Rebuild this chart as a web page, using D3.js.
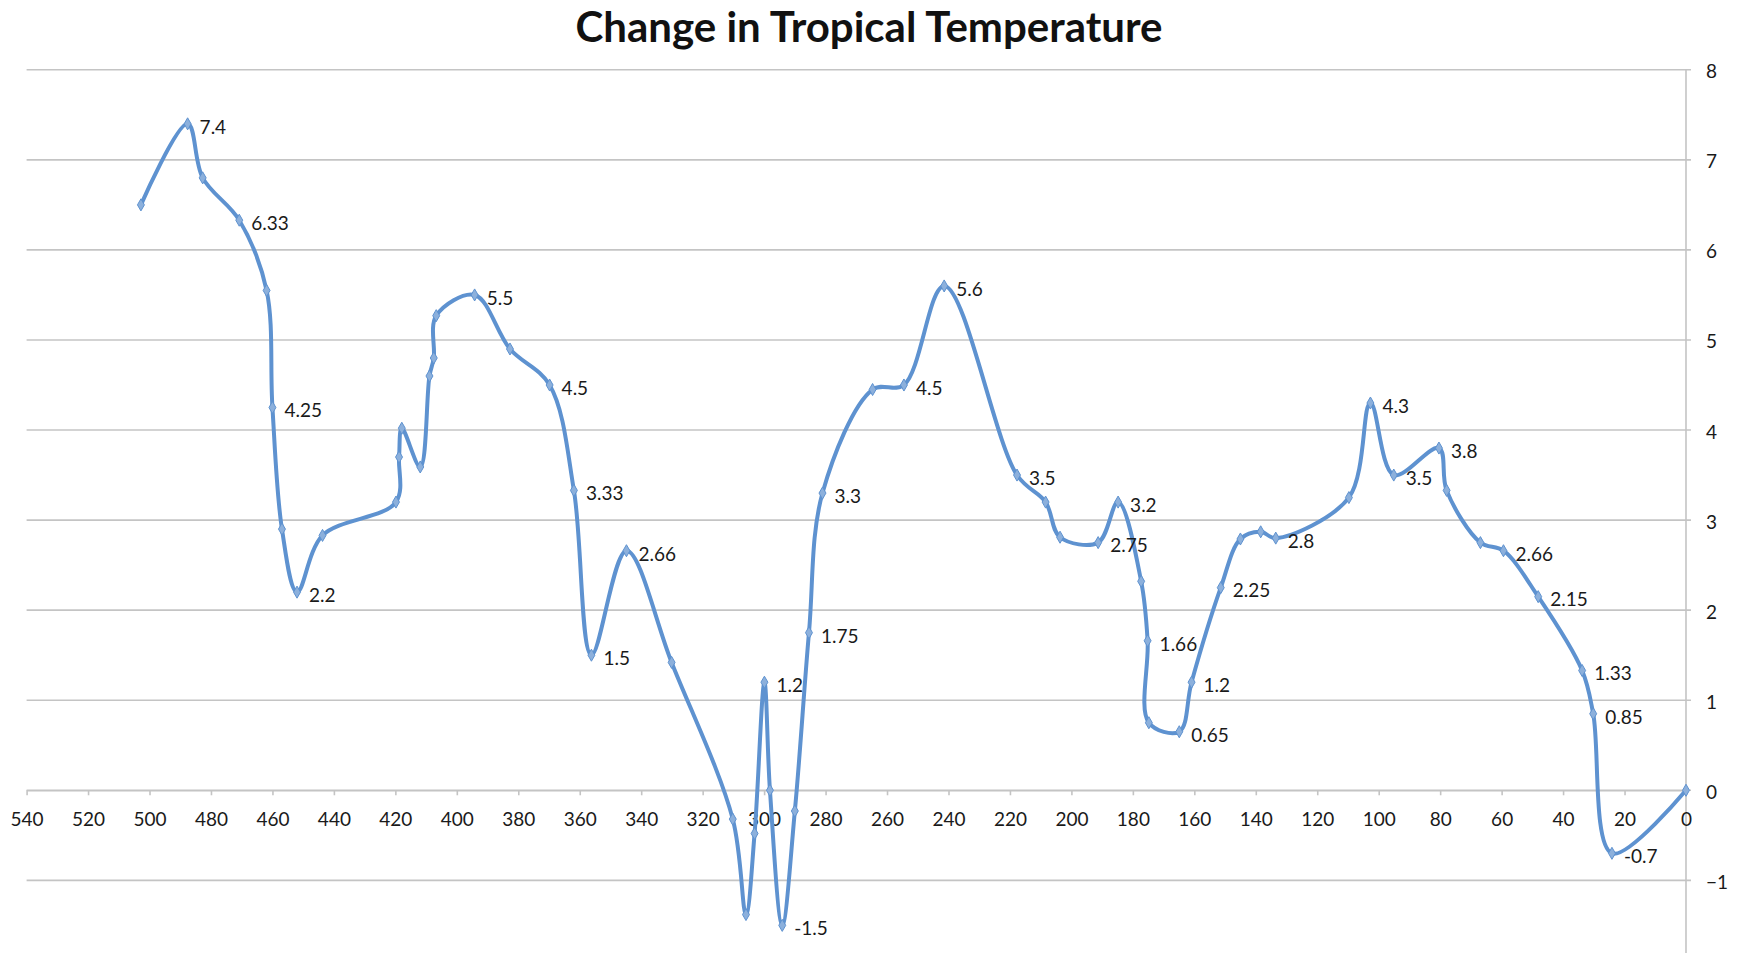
<!DOCTYPE html>
<html>
<head>
<meta charset="utf-8">
<script src="https://cdn.jsdelivr.net/npm/d3@7"></script>
<style>
  html, body { margin: 0; padding: 0; background: #fff; }
  svg { display: block; }
</style>
</head>
<body>
<svg id="chart"></svg>
<script>
// millions of years ago
const ages = [502.8, 487.6, 482.7, 470.8, 461.9, 460.0, 456.9, 452.0, 443.7, 419.8,
  418.8, 417.9, 411.9, 408.9, 407.5, 406.7, 394.2, 382.7, 369.8, 361.9,
  356.2, 344.8, 330.1, 310.2, 305.9, 303.1, 299.9, 298.1, 294.1, 290.0,
  285.4, 281.0, 264.7, 254.5, 241.4, 217.7, 208.4, 203.7, 191.3, 184.8,
  177.3, 175.2, 174.8, 164.9, 160.9, 151.4, 145.0, 138.4, 133.5, 109.7,
  102.7, 95.1, 80.4, 77.9, 66.9, 59.4, 48.1, 33.8, 30.2, 24.1, 0];

const temps = [6.5, 7.4, 6.8, 6.33, 5.55, 4.25, 2.9, 2.2, 2.83, 3.2,
  3.7, 4.02, 3.59, 4.6, 4.8, 5.27, 5.5, 4.9, 4.5, 3.33,
  1.5, 2.66, 1.42, -0.32, -1.38, -0.48, 1.2, 0, -1.5, -0.23,
  1.75, 3.3, 4.45, 4.5, 5.6, 3.5, 3.2, 2.81, 2.75, 3.2,
  2.32, 1.66, 0.75, 0.65, 1.2, 2.25, 2.79, 2.87, 2.8, 3.25,
  4.3, 3.5, 3.8, 3.33, 2.75, 2.66, 2.15, 1.33, 0.85, -0.7, 0];

const labels = ['', '7.4', '', '6.33', '', '4.25', '', '2.2', '', '',
  '', '', '', '', '', '', '5.5', '', '4.5', '3.33',
  '1.5', '2.66', '', '', '', '', '1.2', '', '-1.5', '',
  '1.75', '3.3', '', '4.5', '5.6', '3.5', '', '', '2.75', '3.2',
  '', '1.66', '', '0.65', '1.2', '2.25', '', '', '2.8', '',
  '4.3', '3.5', '3.8', '', '', '2.66', '2.15', '1.33', '0.85', '-0.7', ''];

const xTicks = d3.range(540, -1, -20);
const yTicks = d3.range(-1, 9, 1);

const width = 1738, height = 953;
const font = 'Lato, "Open Sans", sans-serif';
const lineColor = '#5e92d0';
const gridColor = '#c4c4c4';
const textColor = '#1a1a1a';

const svg = d3.select('#chart')
  .attr('width', width)
  .attr('height', height)
  .attr('viewBox', `0 0 ${width} ${height}`);

const x = d3.scaleLinear().domain([540, 0]).range([26.6, 1686]);
const y = d3.scaleLinear().domain([-2, 8]).range([970.4, 69.8]);

const points = ages.map((a, i) => ({ age: a, temp: temps[i], label: labels[i] }));

// horizontal gridlines
svg.append('g')
  .selectAll('line')
  .data(yTicks)
  .join('line')
  .attr('x1', x(540))
  .attr('x2', x(0) + 5)
  .attr('y1', d => y(d))
  .attr('y2', d => y(d))
  .attr('stroke', gridColor)
  .attr('stroke-width', 1.6);

// right value axis
const yAxis = d3.axisRight(y)
  .tickValues(yTicks)
  .tickFormat(d3.format('d'))
  .tickSize(0)
  .tickPadding(20);

const yAxisG = svg.append('g')
  .attr('transform', `translate(${x(0)},0)`)
  .call(yAxis);
yAxisG.select('.domain').remove();
yAxisG.selectAll('.tick text')
  .attr('fill', textColor)
  .attr('font-family', font)
  .attr('font-size', '19px')
  .attr('dy', '0.42em');

svg.append('line')
  .attr('x1', x(0)).attr('x2', x(0))
  .attr('y1', y(8)).attr('y2', height)
  .attr('stroke', gridColor)
  .attr('stroke-width', 1.6);

// x axis along zero
const xAxis = d3.axisBottom(x)
  .tickValues(xTicks)
  .tickFormat(d3.format('d'))
  .tickSize(5)
  .tickSizeOuter(0)
  .tickPadding(17);

const xAxisG = svg.append('g')
  .attr('transform', `translate(0,${y(0)})`)
  .call(xAxis);
xAxisG.select('.domain').attr('stroke', gridColor).attr('stroke-width', 1.6);
xAxisG.selectAll('.tick line').attr('stroke', gridColor).attr('stroke-width', 1.6);
xAxisG.selectAll('.tick text')
  .attr('fill', textColor)
  .attr('font-family', font)
  .attr('font-size', '19px');

// the series
const line = d3.line()
  .x(d => x(d.age))
  .y(d => y(d.temp))
  .curve(d3.curveCatmullRom.alpha(0.5));

svg.append('path')
  .attr('d', line(points))
  .attr('fill', 'none')
  .attr('stroke', lineColor)
  .attr('stroke-width', 4)
  .attr('stroke-linejoin', 'round');

const diamond = d3.symbol().type(d3.symbolDiamond).size(42);
svg.append('g')
  .selectAll('path')
  .data(points)
  .join('path')
  .attr('transform', d => `translate(${x(d.age)},${y(d.temp)})`)
  .attr('d', diamond)
  .attr('fill', '#8cb0dc')
  .attr('stroke', lineColor)
  .attr('stroke-width', 1);

svg.append('g')
  .selectAll('text')
  .data(points.filter(d => d.label))
  .join('text')
  .attr('x', d => x(d.age) + 12)
  .attr('y', d => y(d.temp) + 3)
  .attr('dy', '0.36em')
  .attr('fill', textColor)
  .attr('font-family', font)
  .attr('font-size', '19px')
  .text(d => d.label);

svg.append('text')
  .attr('x', 869)
  .attr('y', 42)
  .attr('text-anchor', 'middle')
  .attr('fill', '#111')
  .attr('font-family', font)
  .attr('font-weight', 700)
  .attr('font-size', '42px')
  .text('Change in Tropical Temperature');
</script>
</body>
</html>
